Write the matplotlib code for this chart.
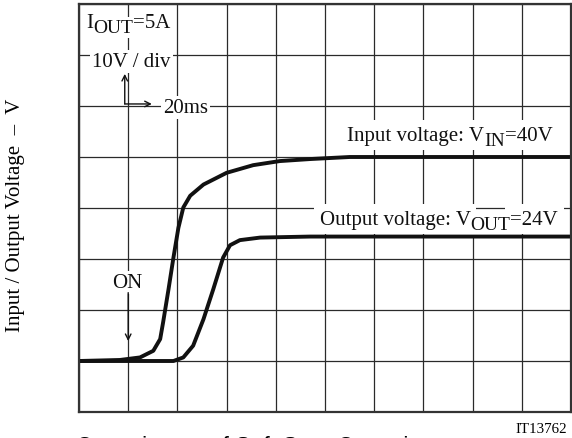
import matplotlib
matplotlib.use('Agg')
import matplotlib.pyplot as plt
import matplotlib.transforms as mtransforms
import numpy as np

plt.rcParams.update({
    'font.family': ['Liberation Serif', 'DejaVu Serif'],
})

# time in divisions (20ms / div), voltage in V (10V / div, 0 V one div above bottom)
t_in = [0.0, 0.83, 1.24, 1.51, 1.65, 1.71, 1.82, 1.92, 2.02, 2.12, 2.26, 2.53,
        3.00, 3.54, 4.08, 4.70, 5.50, 10.0]
v_in = [0.0, 0.2, 0.7, 2.0, 4.3, 7.6, 14.1, 20.3, 26.1, 30.1, 32.4, 34.6,
        36.9, 38.4, 39.2, 39.6, 40.0, 40.0]

t_out = [0.0, 1.92, 2.12, 2.32, 2.53, 2.73, 2.93, 3.07, 3.27, 3.68, 4.70, 10.0]
v_out = [0.0, 0.0, 0.7, 3.0, 8.2, 14.1, 20.3, 22.7, 23.7, 24.2, 24.4, 24.4]

n_xdiv = 10
v_min, v_max = -10, 70

fig = plt.figure(figsize=(5.72, 4.39), dpi=100)
ax = fig.add_axes([79 / 572, 26 / 439, 492 / 572, 408 / 439])

ax.set_xlim(0, n_xdiv)
ax.set_ylim(v_min, v_max)
ax.set_xticks(np.arange(0, n_xdiv + 1))
ax.set_yticks(np.arange(v_min, v_max + 1, 10))
ax.grid(True, color='#2a2a2a', linewidth=0.9)
ax.set_axisbelow(True)
ax.tick_params(length=0, labelbottom=False, labelleft=False)
for s in ax.spines.values():
    s.set_linewidth(1.6)
    s.set_color('#333333')
    s.set_zorder(5)

# curves sit above the white label boxes but below the label glyphs
ax.plot(t_in, v_in, color='#111111', lw=2.8, zorder=3.9, solid_joinstyle='round')
ax.plot(t_out, v_out, color='#111111', lw=2.8, zorder=3.9, solid_joinstyle='round')


def rich_text(ax, x, y, parts, ha='left', pad=1.5):
    """parts: list of (text, fontsize, dy in px); subscripts are near full size"""
    fig = ax.figure
    r = fig.canvas.get_renderer()
    widths = []
    for s, size, dy in parts:
        t = ax.text(0, 0, s, fontsize=size)
        widths.append(t.get_window_extent(r).width)
        t.remove()
    total = sum(widths)
    dx = {'left': 0, 'center': -total / 2, 'right': -total}[ha]
    for (s, size, dy), w in zip(parts, widths):
        tr = mtransforms.offset_copy(ax.transData, fig=fig, x=dx, y=dy, units='dots')
        # white box underneath, then the text on top so boxes never hide glyphs
        ax.text(x, y, s, fontsize=size, transform=tr, ha='left', va='baseline',
                color='none',
                bbox=dict(facecolor='white', edgecolor='none', pad=pad), zorder=3.8)
        ax.text(x, y, s, fontsize=size, transform=tr, ha='left', va='baseline',
                color='#111111', zorder=4)
        dx += w


fs = 15
sub = 14

rich_text(ax, 0.14, 65.5, [('I', fs, 0), ('OUT', sub, -5), ('=5A', fs, 0)])
rich_text(ax, 0.27, 57.8, [('10V / div', fs, 0)])
rich_text(ax, 1.71, 48.8, [('20ms', fs, 0)])
rich_text(ax, 9.63, 43.4, [('Input voltage: V', fs, 0), ('IN', sub, -5), ('=40V', fs, 0)],
          ha='right', pad=4)
rich_text(ax, 9.74, 26.9, [('Output voltage: V', fs, 0), ('OUT', sub, -5), ('=24V', fs, 0)],
          ha='right', pad=4)
rich_text(ax, 0.98, 14.5, [('ON', fs, 0)], ha='center')

# scale arrows
arrow = dict(arrowstyle='->', color='#111111', lw=1.0, shrinkA=0, shrinkB=0)
ax.annotate('', xy=(0.93, 56.3), xytext=(0.93, 50.4), arrowprops=arrow, zorder=4)
ax.annotate('', xy=(1.48, 50.4), xytext=(0.93, 50.4), arrowprops=arrow, zorder=4)
ax.annotate('', xy=(1.0, 3.9), xytext=(1.0, 13.4), arrowprops=arrow, zorder=4)

fig.text(16 / 572, 1 - 215 / 439, 'Input / Output Voltage  \u2013  V', rotation=90,
         fontsize=15, ha='center', va='center')
fig.text(567 / 572, 1 - 433 / 439, 'IT13762', fontsize=10.8, ha='right', va='baseline')
fig.text(76 / 572, 1 - 454 / 439, 'Capacitance of Soft Start Capacitor',
         fontsize=16.5, family=['Liberation Sans', 'DejaVu Sans'], ha='left', va='baseline')

fig.savefig('out.png', dpi=100)
